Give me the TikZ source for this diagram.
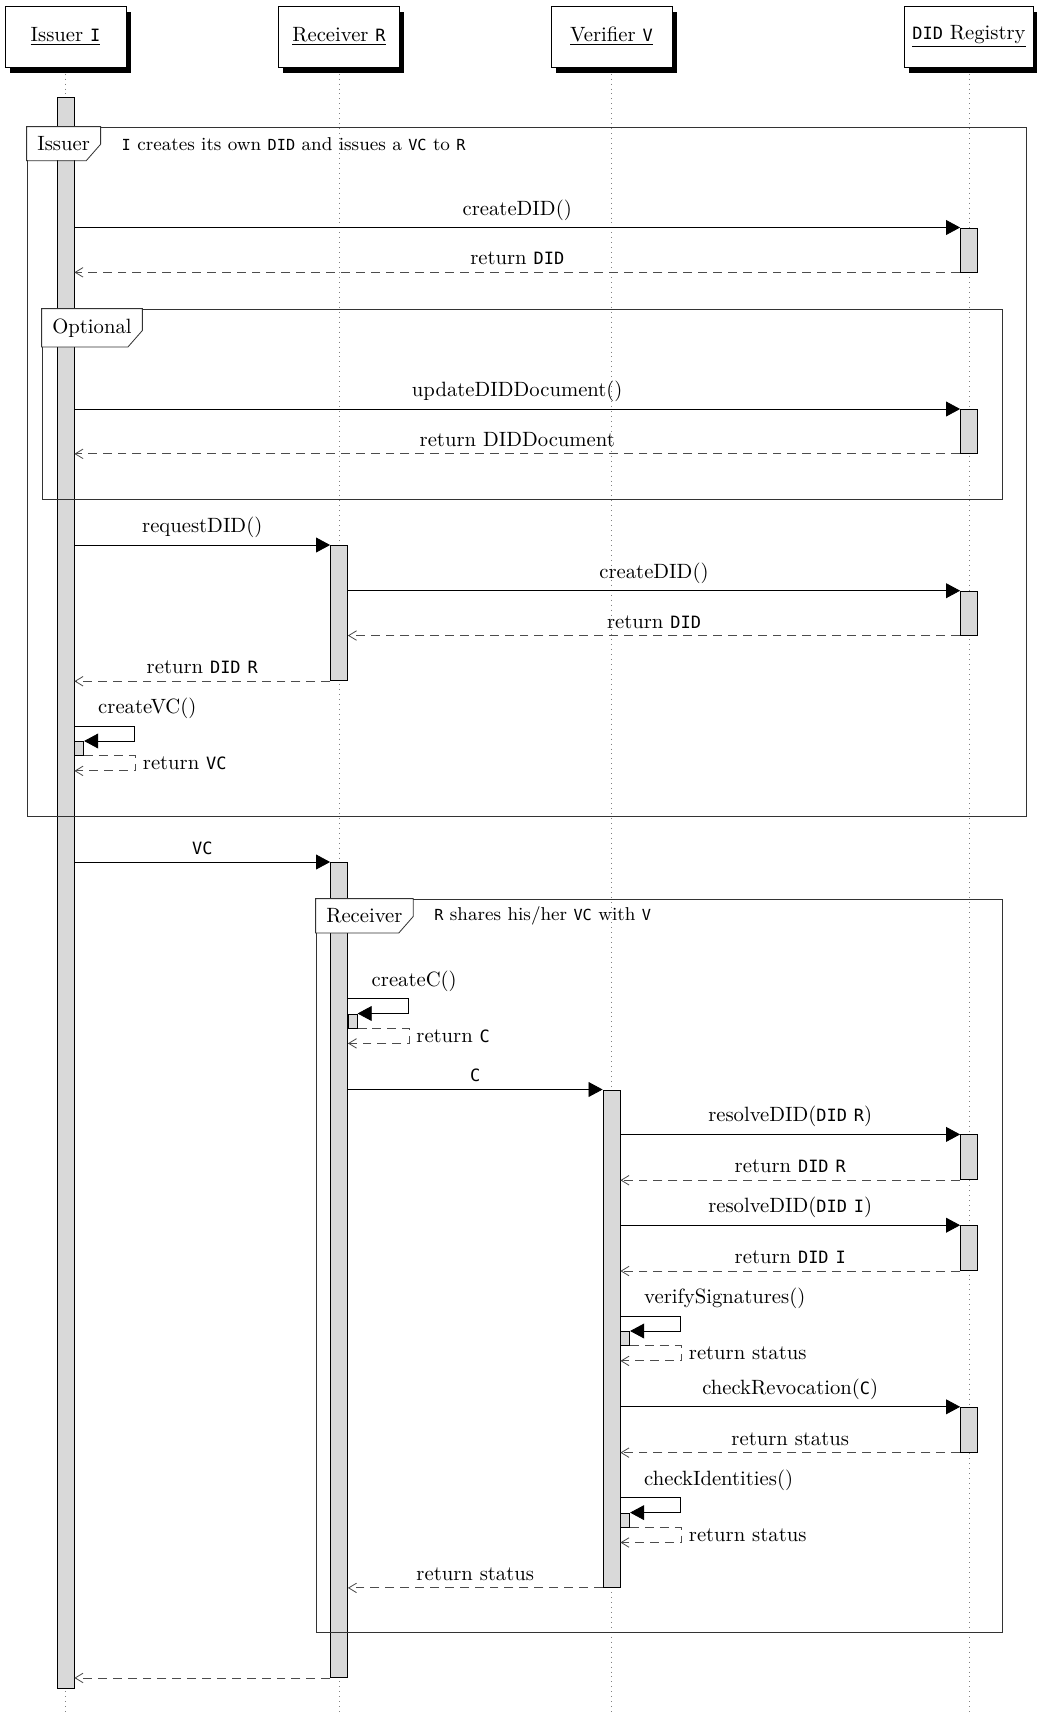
\documentclass[tikz,border=0pt]{standalone}
\usepackage{fontspec}
\setmonofont{DejaVu Sans Mono}[Scale=0.82]
\usetikzlibrary{positioning, arrows.meta, calc, fit, shadows}

\begin{document}
\begin{tikzpicture}[
    x=0.017cm, y=-0.017cm,
    inst/.style={
        draw=black, fill=white, minimum width=58.5pt, minimum height=29.5pt,
        inner xsep=4pt,
        drop shadow={shadow xshift=2.4pt, shadow yshift=-2.9pt, opacity=1, fill=black}
    },
    life/.style={draw=gray, dotted},
    actbar/.style={
        draw=black, fill=gray!30, inner sep=0pt, anchor=north,
        minimum width=8.2pt, minimum height=#1*0.4837pt
    },
    selfbar/.style={
        draw=black, fill=gray!30, inner sep=0pt, anchor=north west,
        minimum width=4.3pt, minimum height=6.8pt
    },
    call/.style={-{Triangle[length=6.8pt, width=7.2pt]}, draw=black},
    ret/.style={-{Straight Barb[length=3.8pt, width=4.6pt]}, draw=black!70, dash pattern=on 4.3pt off 2.9pt},
    frame/.style={draw=black!80, inner sep=0pt},
    tab/.style={fill=white, anchor=north west, inner xsep=5pt, inner ysep=4.6pt},
    tabline/.style={draw=black!80},
    note/.style={font=\small, inner sep=2pt}
]
\useasboundingbox (0,0) rectangle (1037,1715);

% Header boxes
\node[inst] (hI) at (65.5,36.5) {\underline{Issuer \texttt{I}}};
\node[inst] (hR) at (339,36.5) {\underline{Receiver \texttt{R}}};
\node[inst] (hV) at (611.5,36.5) {\underline{Verifier \texttt{V}}};
\node[inst] (hD) at (969,36.5) {\underline{\texttt{DID} Registry}};

% Lifelines
\coordinate (bottom) at (0,1715);
\draw[life] ([yshift=-3pt]hI.south) -- (hI |- bottom);
\draw[life] ([yshift=-3pt]hR.south) -- (hR |- bottom);
\draw[life] ([yshift=-3pt]hV.south) -- (hV |- bottom);
\draw[life] ([yshift=-3pt]hD.south) -- (hD |- bottom);

% Activation bars
\node[actbar=1591] (bI) at (65.5,97) {};
\node[actbar=135.4] (recv1) at (339,545) {};
\node[actbar=815] (recv2) at (339,862) {};
\node[actbar=497.5] (ver1) at (611.5,1089.5) {};
\node[actbar=44] (reg1) at (969,227.5) {};
\node[actbar=44] (reg2) at (969,409) {};
\node[actbar=44] (reg3) at (969,590.7) {};
\node[actbar=45] (reg4) at (969,1134.4) {};
\node[actbar=45] (reg5) at (969,1225.2) {};
\node[actbar=45] (reg6) at (969,1406.8) {};

% Issuer creates its DID
\draw[call] (bI.east |- reg1.north) -- node[above] {createDID()} (reg1.north west);
\draw[ret] (reg1.south west) -- node[above] {return \texttt{DID}} (bI.east |- reg1.south);

% Optional update
\draw[call] (bI.east |- reg2.north) -- node[above] {updateDIDDocument()} (reg2.north west);
\draw[ret] (reg2.south west) -- node[above] {return DIDDocument} (bI.east |- reg2.south);

% Receiver DID
\draw[call] (bI.east |- recv1.north) -- node[above] {requestDID()} (recv1.north west);
\draw[call] (recv1.east |- reg3.north) -- node[above] {createDID()} (reg3.north west);
\draw[ret] (reg3.south west) -- node[above] {return \texttt{DID}} (recv1.east |- reg3.south);
\draw[ret] (recv1.south west) -- node[above] {return \texttt{DID} \texttt{R}} (bI.east |- recv1.south);

% createVC() self call
\coordinate (cVC) at (bI.east |- 0,726);
\node[selfbar] (sVC) at ($(cVC)+(0,15)$) {};
\draw[call] (cVC) node[above right, xshift=8pt] {createVC()} -- ++(60.5,0) |- (sVC.north east);
\draw[ret] (sVC.south east) -- ++(51.5,0) |- node[right, pos=0.25] {return \texttt{VC}} ($(sVC.south west)+(0,15)$);

% VC to receiver
\draw[call] (bI.east |- recv2.north) -- node[above] {\texttt{VC}} (recv2.north west);

% createC() self call
\coordinate (cC) at (recv2.east |- 0,998.5);
\node[selfbar] (sC) at ($(cC)+(0,15)$) {};
\draw[call] (cC) node[above right, xshift=8pt] {createC()} -- ++(60.5,0) |- (sC.north east);
\draw[ret] (sC.south east) -- ++(51.5,0) |- node[right, pos=0.25] {return \texttt{C}} ($(sC.south west)+(0,15)$);

% C to verifier
\draw[call] (recv2.east |- ver1.north) -- node[above] {\texttt{C}} (ver1.north west);

% Verifier resolves DIDs
\draw[call] (ver1.east |- reg4.north) -- node[above] {resolveDID(\texttt{DID} \texttt{R})} (reg4.north west);
\draw[ret] (reg4.south west) -- node[above] {return \texttt{DID} \texttt{R}} (ver1.east |- reg4.south);
\draw[call] (ver1.east |- reg5.north) -- node[above] {resolveDID(\texttt{DID} \texttt{I})} (reg5.north west);
\draw[ret] (reg5.south west) -- node[above] {return \texttt{DID} \texttt{I}} (ver1.east |- reg5.south);

% verifySignatures() self call
\coordinate (cSig) at (ver1.east |- 0,1316);
\node[selfbar] (sSig) at ($(cSig)+(0,15)$) {};
\draw[call] (cSig) node[above right, xshift=8pt] {verifySignatures()} -- ++(60.5,0) |- (sSig.north east);
\draw[ret] (sSig.south east) -- ++(51.5,0) |- node[right, pos=0.25] {return status} ($(sSig.south west)+(0,15)$);

% Revocation check
\draw[call] (ver1.east |- reg6.north) -- node[above] {checkRevocation(\texttt{C})} (reg6.north west);
\draw[ret] (reg6.south west) -- node[above] {return status} (ver1.east |- reg6.south);

% checkIdentities() self call
\coordinate (cIdt) at (ver1.east |- 0,1497.6);
\node[selfbar] (sIdt) at ($(cIdt)+(0,15)$) {};
\draw[call] (cIdt) node[above right, xshift=8pt] {checkIdentities()} -- ++(60.5,0) |- (sIdt.north east);
\draw[ret] (sIdt.south east) -- ++(51.5,0) |- node[right, pos=0.25] {return status} ($(sIdt.south west)+(0,15)$);

% Returns back
\draw[ret] (ver1.south west) -- node[above] {return status} (recv2.east |- ver1.south);
\draw[ret] (recv2.south west) -- (bI.east |- recv2.south);

% Frames
\node[frame, fit={(27,127) (1026,816)}] (fIssuer) {};
\node[tab] (tIssuer) at (fIssuer.north west) {Issuer};
\draw[tabline] (tIssuer.north west) -- (tIssuer.north east) -- ([yshift=8pt]tIssuer.south east)
    -- ([xshift=-7pt]tIssuer.south east) -- (tIssuer.south west) -- cycle;
\node[note, right=8pt of tIssuer] (nIssuer) {\texttt{I} creates its own \texttt{DID} and issues a \texttt{VC} to \texttt{R}};

\node[frame, fit={(42,309) (1002,499)}] (fOpt) {};
\node[tab] (tOpt) at (fOpt.north west) {Optional};
\draw[tabline] (tOpt.north west) -- (tOpt.north east) -- ([yshift=8pt]tOpt.south east)
    -- ([xshift=-7pt]tOpt.south east) -- (tOpt.south west) -- cycle;

\node[frame, fit={(316,899) (1002,1632)}] (fRecv) {};
\node[tab] (tRecv) at (fRecv.north west) {Receiver};
\draw[tabline] (tRecv.north west) -- (tRecv.north east) -- ([yshift=8pt]tRecv.south east)
    -- ([xshift=-7pt]tRecv.south east) -- (tRecv.south west) -- cycle;
\node[note, right=8pt of tRecv] (nRecv) {\texttt{R} shares his/her \texttt{VC} with \texttt{V}};

\end{tikzpicture}
\end{document}
